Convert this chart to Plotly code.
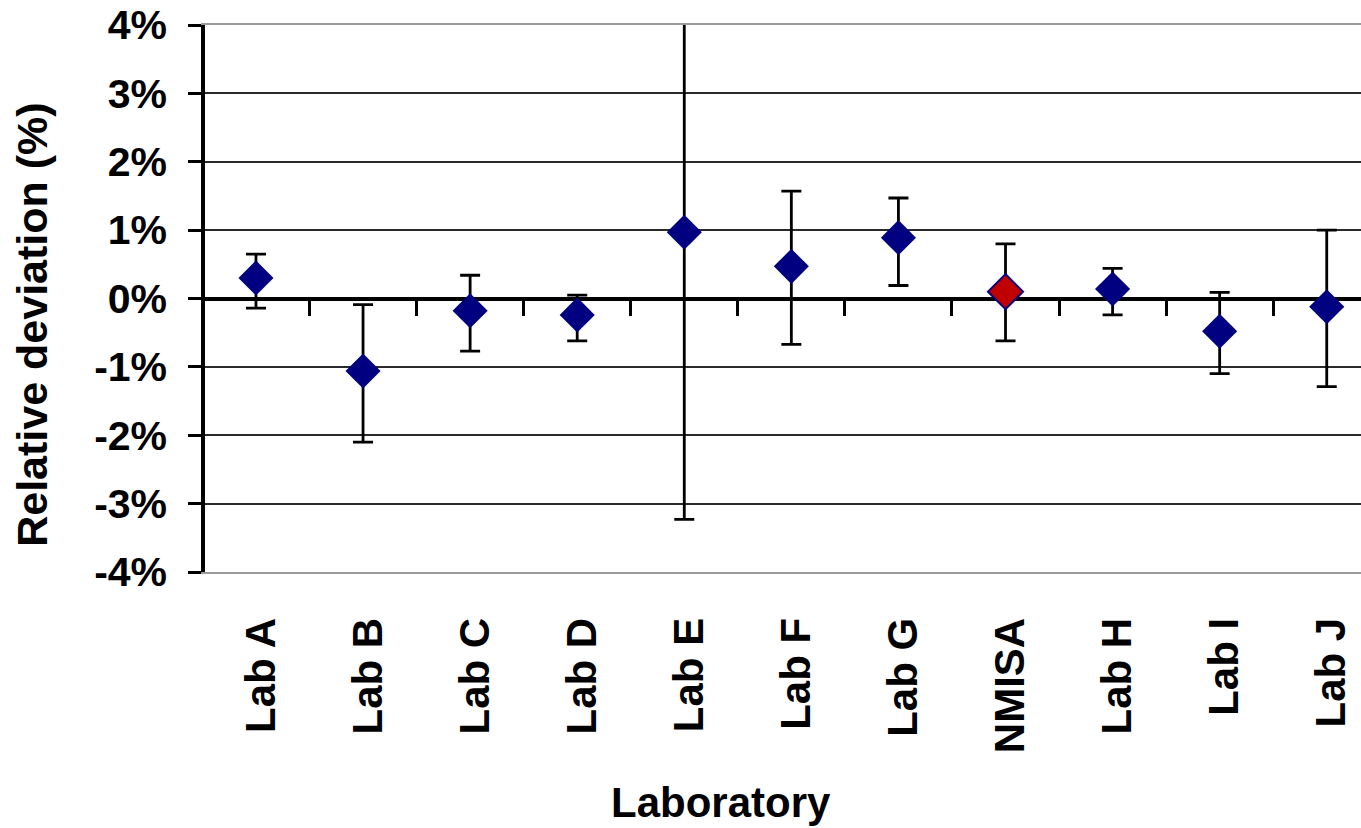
import plotly.graph_objects as go

# ---- data ----
labs = ["Lab A", "Lab B", "Lab C", "Lab D", "Lab E", "Lab F", "Lab G",
        "NMISA", "Lab H", "Lab I", "Lab J"]
deviation = [0.30, -1.06, -0.18, -0.24, 0.97, 0.47, 0.89, 0.10, 0.14, -0.48, -0.12]
err_plus = [0.35, 0.97, 0.52, 0.29, 4.20, 1.10, 0.58, 0.70, 0.30, 0.57, 1.12]
err_minus = [0.44, 1.04, 0.59, 0.38, 4.20, 1.14, 0.70, 0.72, 0.38, 0.62, 1.17]
y_tick_vals = [-4, -3, -2, -1, 0, 1, 2, 3, 4]
y_tick_text = ["-4%", "-3%", "-2%", "-1%", "0%", "1%", "2%", "3%", "4%"]
reference_lab = "NMISA"

# ---- layout constants ----
W, H = 1361, 828
ML, MT, MR = 205, 25, 0
MB = H - 572.3
PW = W - ML - MR
PH = H - MT - MB
FONT = "Arial, 'Liberation Sans', sans-serif"
NAVY = "#000080"

idx = list(range(len(labs)))
boundaries = [i + 0.5 for i in idx[:-1]]
fills = ["#C00000" if l == reference_lab else NAVY for l in labs]
line_w = [2 if l == reference_lab else 0 for l in labs]

fig = go.Figure()
fig.add_trace(go.Scatter(
    x=idx, y=deviation, mode="markers",
    marker=dict(symbol="diamond", size=27, color=fills,
                line=dict(color=NAVY, width=line_w)),
    error_y=dict(type="data", symmetric=False, array=err_plus,
                 arrayminus=err_minus, color="black", thickness=2.8, width=10),
    showlegend=False, hoverinfo="x+y",
))
# invisible carrier trace for the category-boundary axis drawn on the 0% line
fig.add_trace(go.Scatter(
    x=idx, y=deviation, xaxis="x2", mode="markers",
    marker=dict(opacity=0), hoverinfo="skip", showlegend=False,
))

x_range = [-0.476, 10.32]
fig.update_layout(
    width=W, height=H,
    margin=dict(l=ML, r=MR, t=MT, b=MB, pad=0),
    paper_bgcolor="white", plot_bgcolor="white",
    font=dict(family=FONT, color="black"),
    xaxis=dict(
        range=x_range, tickmode="array", tickvals=idx, ticktext=labs,
        tickangle=-90, ticks="", showgrid=False, zeroline=False,
        showline=True, linecolor="#9a9a9a", linewidth=2, mirror=True,
        tickfont=dict(family=FONT, size=42, weight="bold", color="black"),
        ticklabelstandoff=27, ticklabelshift=5,
    ),
    xaxis2=dict(
        overlaying="x", anchor="free", position=0.5, side="bottom",
        range=x_range, tickmode="array", tickvals=boundaries,
        ticks="outside", ticklen=16, tickwidth=2.5, tickcolor="black",
        showticklabels=False, showline=True, linecolor="black", linewidth=3.5,
        showgrid=False, zeroline=False, layer="below traces",
    ),
    yaxis=dict(
        range=[-4, 4], tickmode="array", tickvals=y_tick_vals, ticktext=y_tick_text,
        showgrid=True, gridcolor="#2a2a2a", gridwidth=2.3, zeroline=False,
        showline=True, linecolor="black", linewidth=3.5,
        ticks="outside", ticklen=13, tickwidth=2.5, tickcolor="black",
        tickfont=dict(family=FONT, size=41, weight="bold", color="black"),
        ticklabelstandoff=13,
    ),
    annotations=[
        dict(text="Relative deviation (%)", textangle=-90,
             xref="paper", yref="paper",
             x=(32 - ML) / PW, y=(H - MB - 325) / PH,
             xanchor="center", yanchor="middle", showarrow=False,
             font=dict(family=FONT, size=43, weight="bold", color="black")),
        dict(text="Laboratory", xref="paper", yref="paper",
             x=(721 - ML) / PW, y=(H - MB - 803) / PH,
             xanchor="center", yanchor="middle", showarrow=False,
             font=dict(family=FONT, size=42, weight="bold", color="black")),
    ],
)

fig.write_html("out.html",
               config={"displayModeBar": False},
               post_script="document.body.style.margin='0';"
                           "document.body.style.overflow='hidden';")
